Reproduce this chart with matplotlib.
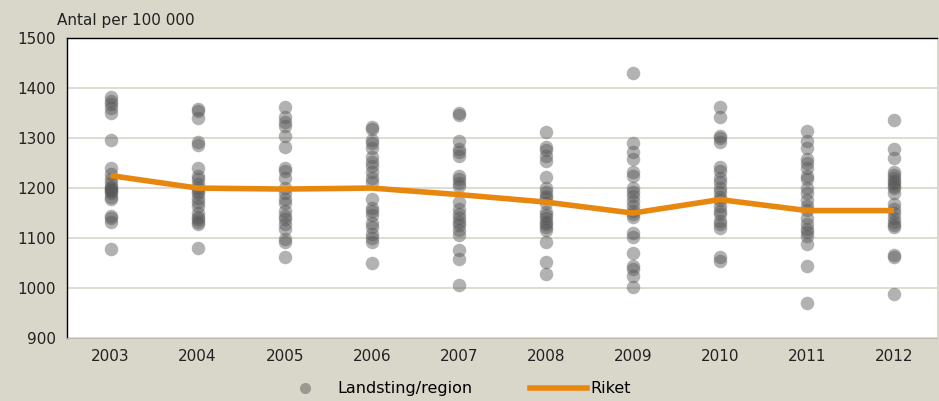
import matplotlib
matplotlib.use("Agg")
import matplotlib.pyplot as plt
from matplotlib.lines import Line2D

BG = "#D9D6CA"
GRID = "#D9D6CA"
DOT = "#555555"
ORANGE = "#E8870E"

years = ["2003", "2004", "2005", "2006", "2007", "2008", "2009", "2010", "2011", "2012"]

# Landsting/region values per year (antal per 100 000)
v2003 = [1383, 1375, 1368, 1360, 1350, 1297, 1240, 1228, 1218, 1210, 1203,
         1200, 1197, 1195, 1190, 1183, 1178, 1145, 1140, 1133, 1078]
v2004 = [1358, 1355, 1340, 1292, 1287, 1240, 1225, 1218, 1208, 1200, 1195,
         1190, 1180, 1172, 1165, 1150, 1143, 1138, 1133, 1128, 1080]
v2005 = [1362, 1342, 1333, 1325, 1305, 1283, 1240, 1235, 1220, 1200, 1190,
         1178, 1170, 1155, 1145, 1138, 1128, 1118, 1098, 1093, 1063]
v2006 = [1323, 1318, 1297, 1290, 1280, 1262, 1253, 1245, 1233, 1220, 1213,
         1178, 1160, 1155, 1147, 1130, 1122, 1108, 1100, 1093, 1050]
v2007 = [1350, 1346, 1295, 1278, 1272, 1265, 1225, 1218, 1210, 1205, 1172,
         1158, 1148, 1140, 1133, 1127, 1117, 1107, 1077, 1058, 1006]
v2008 = [1312, 1282, 1277, 1265, 1255, 1222, 1200, 1192, 1185, 1180, 1170,
         1152, 1147, 1140, 1133, 1128, 1122, 1116, 1092, 1053, 1028]
v2009 = [1430, 1290, 1272, 1258, 1232, 1225, 1200, 1193, 1185, 1175, 1165,
         1155, 1148, 1142, 1110, 1102, 1070, 1045, 1038, 1025, 1003]
v2010 = [1362, 1343, 1305, 1300, 1292, 1242, 1235, 1220, 1213, 1200, 1193,
         1183, 1177, 1165, 1155, 1148, 1135, 1128, 1120, 1062, 1055]
v2011 = [1315, 1295, 1280, 1258, 1250, 1240, 1225, 1218, 1200, 1190, 1177,
         1165, 1157, 1140, 1128, 1118, 1112, 1105, 1088, 1045, 970]
v2012 = [1337, 1278, 1260, 1232, 1227, 1220, 1215, 1210, 1205, 1200, 1190,
         1168, 1158, 1150, 1140, 1133, 1127, 1122, 1067, 1063, 988]
regions = [v2003, v2004, v2005, v2006, v2007, v2008, v2009, v2010, v2011, v2012]

riket = [1225, 1200, 1198, 1200, 1187, 1172, 1150, 1177, 1155, 1155]

yticks = [900, 1000, 1100, 1200, 1300, 1400, 1500]

plt.rcParams["font.family"] = ["DejaVu Sans"]

fig = plt.figure(figsize=(9.39, 4.01), dpi=100, facecolor=BG)
ax = fig.add_axes([0.0714, 0.157, 0.927, 0.748])
ax.set_facecolor("white")

for i, vals in enumerate(regions):
    ax.scatter([i] * len(vals), vals, s=95, color=DOT, alpha=0.45,
               linewidths=0, zorder=3)

ax.plot(range(len(years)), riket, color=ORANGE, linewidth=4,
        solid_capstyle="butt", zorder=4)

ax.set_xlim(-0.5, len(years) - 0.5)
ax.set_ylim(900, 1500)
ax.set_xticks(range(len(years)))
ax.set_xticklabels(years, fontsize=11)
ax.set_yticks(yticks)
ax.set_yticklabels([str(t) for t in yticks], fontsize=11)
ax.tick_params(length=0, pad=8, colors="#222222")
ax.grid(True, axis="y", color=GRID, linewidth=1.2, zorder=0)
ax.set_axisbelow(True)

for side in ["left", "top"]:
    ax.spines[side].set_color("black")
    ax.spines[side].set_linewidth(1.0)
ax.spines["bottom"].set_color("#BFBBAF")
ax.spines["right"].set_visible(False)

fig.text(0.061, 0.95, "Antal per 100 000", fontsize=11, color="#222222",
         ha="left", va="center")

handles = [
    Line2D([], [], marker="o", linestyle="none", markersize=8,
           color="#9A9890", markeredgewidth=0),
    Line2D([], [], color=ORANGE, linewidth=4),
]
leg = fig.legend(handles, ["Landsting/region", "Riket"], loc="center",
                 bbox_to_anchor=(0.483, 0.03), ncol=2, frameon=False,
                 fontsize=11.5, handlelength=3.6, columnspacing=3.6,
                 handletextpad=0.2)

fig.savefig("out.png", dpi=100, facecolor=BG)
